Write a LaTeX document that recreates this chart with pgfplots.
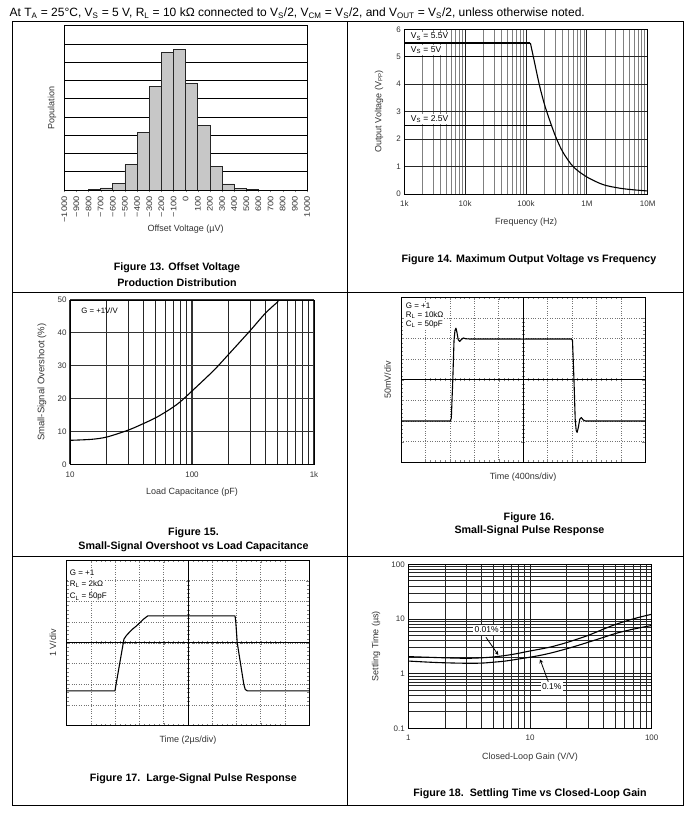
\documentclass[border=0pt]{standalone}
\usepackage{fontspec}
\setmainfont{Liberation Sans}
\usepackage{pgfplots}
\pgfplotsset{compat=1.18}

\newcommand\tickfont{\fontsize{8}{9}\selectfont}
\newcommand\labfont{\fontsize{9}{10}\selectfont}
\newcommand\capfont{\fontsize{10.7}{12}\selectfont\bfseries}
\newcommand\notefont{\fontsize{8}{9}\selectfont}

\pgfplotsset{
  dsheet/.style={
    scale only axis, anchor=north west,
    /pgf/number format/assume math mode=true,
    tick label style={font=\tickfont, text=black!80},
    label style={font=\labfont, text=black!80},
    axis line style={line width=0.8pt},
  },
  scope/.style={
    dsheet, xmin=-5, xmax=5, ymin=-4, ymax=4,
    xtick={-4,...,4}, ytick={-3,...,3},
    xticklabels={}, yticklabels={},
    minor x tick num=4, minor y tick num=4,
    major tick length=3pt, minor tick length=2pt,
  },
}

\begin{document}
\begin{tikzpicture}[x=1pt,y=1pt]
\useasboundingbox (0,0) rectangle (692,-813);
\fill[white] (0,0) rectangle (692,-813);

% header and table frame
\node[anchor=base west, inner sep=0, font=\fontsize{12}{14}\selectfont] at (9.5,-16.5)
  {At T\textsubscript{A} = 25°C, V\textsubscript{S} = 5 V, R\textsubscript{L} = 10 kΩ connected to V\textsubscript{S}/2, V\textsubscript{CM} = V\textsubscript{S}/2, and V\textsubscript{OUT} = V\textsubscript{S}/2, unless otherwise noted.};
\draw[line width=1pt] (12.3,-21.3) rectangle (683.3,-805);
\draw[line width=1pt] (347,-21.3) -- (347,-805);
\draw[line width=1pt] (12.3,-292.7) -- (683.3,-292.7);
\draw[line width=1pt] (12.3,-556) -- (683.3,-556);

% ---- Figure 13: histogram
\begin{axis}[dsheet, at={(64.3pt,-25.7pt)}, width=242.7pt, height=164.3pt,
  xmin=-1000, xmax=1000, ymin=0, ymax=9,
  xtick={-1000,-900,...,1000},
  xticklabels={−1000,−900,−800,−700,−600,−500,−400,−300,−200,−100,0,100,200,300,400,500,600,700,800,900,1000},
  xticklabel style={rotate=90, anchor=east, xscale=1.15},
  xtick align=outside, xtick pos=bottom, major tick length=2.5pt,
  ytick={1,...,8}, yticklabels={}, ymajorgrids,
  y tick style={draw=none},
  grid style={black, line width=0.7pt},
  xlabel={Offset Voltage (µV)}, ylabel={Population},
  xlabel style={at={([yshift=-39pt]axis description cs:0.5,0)}, anchor=center},
  ylabel style={at={([xshift=-12.3pt]axis description cs:0,0.5)}, anchor=center},
]
\addplot[ybar, bar width=100, fill=black!22, draw=black!85, line width=0.8pt] coordinates {
(-750,0.04) (-650,0.11) (-550,0.38) (-450,1.39) (-350,3.14) (-250,5.68) (-150,7.54)
(-50,7.72) (50,5.84) (150,3.54) (250,1.30) (350,0.33) (450,0.07) (550,0.04)
};
\end{axis}
\node[font=\capfont] at (177,-268) {Figure 13. Offset Voltage};
\node[font=\capfont] at (177,-283) {Production Distribution};

% ---- Figure 14: max output voltage vs frequency
\begin{axis}[dsheet, at={(404.3pt,-29.3pt)}, width=243.4pt, height=164.7pt,
  xmode=log, xmin=1e3, xmax=1e7, ymin=0, ymax=6,
  xtick={1e3,1e4,1e5,1e6,1e7}, xticklabels={1k,10k,100k,1M,10M},
  ytick={0,...,6},
  grid=both, major tick length=0pt, minor tick length=0pt,
  major grid style={black!85, line width=0.8pt},
  minor grid style={black!50, line width=1pt},
  xticklabel style={yshift=-3pt},
  xlabel={Frequency (Hz)}, ylabel={Output Voltage (V\textsubscript{PP})},
  xlabel style={at={([yshift=-28pt]axis description cs:0.5,0)}, anchor=center},
  ylabel style={at={([xshift=-25.3pt]axis description cs:0,0.5)}, anchor=center},
]
\addplot[black, line width=1.1pt] coordinates {(1e3,5.5) (118e3,5.5)};
\addplot[black, line width=1.1pt] coordinates {(1e3,5.0) (132e3,5.0)};
\addplot[black, line width=1.1pt] coordinates {(1e3,2.5) (262e3,2.5)};
\addplot[black, line width=1.1pt, smooth] coordinates {
(118e3,5.5) (132e3,5.0) (166e3,3.97) (205e3,3.2) (262e3,2.5) (319e3,2.0) (410e3,1.5)
(600e3,0.99) (1e6,0.62) (1.86e6,0.34) (3.5e6,0.21) (6e6,0.15) (1e7,0.11)
};
\node[anchor=west, fill=white, inner sep=1.2pt, font=\fontsize{8.5}{9}\selectfont] at (axis cs:1220,5.73) {V\textsubscript{S} = 5.5V};
\node[anchor=west, fill=white, inner sep=1.2pt, font=\fontsize{8.5}{9}\selectfont] at (axis cs:1220,5.25) {V\textsubscript{S} = 5V};
\node[anchor=west, fill=white, inner sep=1.2pt, font=\fontsize{8.5}{9}\selectfont] at (axis cs:1220,2.72) {V\textsubscript{S} = 2.5V};
\end{axis}
\node[font=\capfont] at (529,-260) {Figure 14. Maximum Output Voltage vs Frequency};

% ---- Figure 15: overshoot vs load capacitance
\begin{axis}[dsheet, at={(70pt,-300pt)}, width=244pt, height=164.3pt,
  xmode=log, xmin=10, xmax=1000, ymin=0, ymax=50,
  xtick={10,100,1000}, xticklabels={10,100,1k},
  ytick={0,10,...,50},
  grid=both, major tick length=0pt, minor tick length=0pt,
  major grid style={black!80, line width=1.1pt},
  minor grid style={black!85, line width=0.6pt},
  xticklabel style={yshift=-4pt},
  xlabel={Load Capacitance (pF)}, ylabel={Small-Signal Overshoot (\%)},
  xlabel style={at={([yshift=-27.7pt]axis description cs:0.5,0)}, anchor=center},
  ylabel style={at={([xshift=-28pt]axis description cs:0,0.5)}, anchor=center, font=\fontsize{9.5}{10}\selectfont},
]
\addplot[black, line width=1.1pt, smooth] coordinates {
(10,7.3) (15,7.6) (20,8.3) (30,10.4) (40,12.4) (50,14.1) (60,15.8) (70,17.4) (80,19.0)
(100,22.3) (150,28.5) (200,33.5) (300,40.7) (400,46.0) (510,49.6)
};
\node[anchor=west, font=\fontsize{7.8}{9}\selectfont] at (axis cs:11.6,46.6) {G = +1V/V};
\end{axis}
\node[font=\capfont] at (193.5,-533) {Figure 15.};
\node[font=\capfont] at (193.5,-547) {Small-Signal Overshoot vs Load Capacitance};

% ---- Figure 16: small-signal pulse response
\begin{axis}[scope, at={(401pt,-297.3pt)}, width=244.3pt, height=165pt,
  grid=major, major grid style={dotted, black!55, line width=0.7pt},
  xlabel={Time (400ns/div)}, ylabel={50mV/div},
  xlabel style={at={([yshift=-14.4pt]axis description cs:0.5,0)}, anchor=center},
  ylabel style={at={([xshift=-13.3pt]axis description cs:0,0.5)}, anchor=center},
]
\addplot[black, line width=1.1pt, line join=round] coordinates {
(-5,-2) (-2.98,-2) (-2.94,-1.85) (-2.88,0) (-2.83,1.9) (-2.79,2.4) (-2.75,2.5) (-2.71,2.3)
(-2.66,1.95) (-2.6,1.86) (-2.53,1.95) (-2.45,2.03) (-2.35,1.99) (-2.2,1.98)
(1.98,1.98) (2.02,1.9) (2.08,0) (2.13,-1.9) (2.17,-2.45) (2.21,-2.55) (2.26,-2.3)
(2.32,-1.9) (2.38,-1.83) (2.46,-1.95) (2.55,-2.0) (5,-2.0)
};
\node[anchor=west, fill=white, inner sep=1pt, font=\notefont] at (axis cs:-4.85,3.6) {G = +1};
\node[anchor=west, fill=white, inner sep=1pt, font=\notefont] at (axis cs:-4.85,3.15) {R\textsubscript{L} = 10kΩ};
\node[anchor=west, fill=white, inner sep=1pt, font=\notefont] at (axis cs:-4.85,2.69) {C\textsubscript{L} = 50pF};
\end{axis}
\begin{axis}[scope, at={(401pt,-297.3pt)}, width=244.3pt, height=165pt,
  axis lines=middle, axis line style={-, line width=0.8pt},
  tick align=center, major tick length=4pt, minor tick length=3pt,
]
\end{axis}
\node[font=\capfont] at (529,-517.5) {Figure 16.};
\node[font=\capfont] at (529.5,-530.5) {Small-Signal Pulse Response};

% ---- Figure 17: large-signal pulse response
\begin{axis}[scope, at={(66.7pt,-560pt)}, width=242.6pt, height=165.7pt,
  grid=major, major grid style={dotted, black!55, line width=0.7pt},
  xlabel={Time (2µs/div)}, ylabel={1 V/div},
  xlabel style={at={([yshift=-14.3pt]axis description cs:0.5,0)}, anchor=center},
  ylabel style={at={([xshift=-13.7pt]axis description cs:0,0.5)}, anchor=center},
]
\addplot[black, line width=1.1pt, line join=round] coordinates {
(-5,-2.32) (-3.01,-2.32) (-2.98,-2.1) (-2.64,0.18) (-2.53,0.37) (-2.3,0.65) (-2.12,0.82)
(-1.84,1.14) (-1.66,1.3) (1.94,1.3) (1.97,1.0) (2.03,0) (2.3,-2.0) (2.36,-2.25)
(2.45,-2.32) (5,-2.32)
};
\node[anchor=west, fill=white, inner sep=1pt, font=\notefont] at (axis cs:-4.92,3.39) {G = +1};
\node[anchor=west, fill=white, inner sep=1pt, font=\notefont] at (axis cs:-4.92,2.84) {R\textsubscript{L} = 2kΩ};
\node[anchor=west, fill=white, inner sep=1pt, font=\notefont] at (axis cs:-4.92,2.23) {C\textsubscript{L} = 50pF};
\end{axis}
\begin{axis}[scope, at={(66.7pt,-560pt)}, width=242.6pt, height=165.7pt,
  axis lines=middle, axis line style={-, line width=0.8pt},
  tick align=center, major tick length=4pt, minor tick length=3pt,
]
\end{axis}
\node[font=\capfont] at (193.3,-779) {Figure 17.\ \ Large-Signal Pulse Response};

% ---- Figure 18: settling time vs closed-loop gain (log-log through coord trafos)
\begin{axis}[dsheet, at={(408.3pt,-564.3pt)}, width=243.4pt, height=164pt,
  x coord trafo/.code={\pgfmathparse{log10(#1)}},
  x coord inv trafo/.code={\pgfmathparse{10^(#1)}},
  y coord trafo/.code={\pgfmathparse{log10(#1)}},
  y coord inv trafo/.code={\pgfmathparse{10^(#1)}},
  xmin=1, xmax=100, ymin=0.1, ymax=100,
  xtick={1,10,100}, xticklabels={1,10,100},
  minor xtick={2,3,4,5,6,7,8,9,20,30,40,50,60,70,80,90},
  ytick={0.1,1,10,100}, yticklabels={0.1,1,10,100},
  minor ytick={0.2,0.3,0.4,0.5,0.6,0.7,0.8,0.9,2,3,4,5,6,7,8,9,20,30,40,50,60,70,80,90},
  grid=both, major tick length=0pt, minor tick length=0pt,
  major grid style={black!90, line width=0.9pt},
  minor grid style={black!85, line width=0.7pt},
  xticklabel style={yshift=-3pt},
  xlabel={Closed-Loop Gain (V/V)}, ylabel={Settling Time (µs)},
  xlabel style={at={([yshift=-28.4pt]axis description cs:0.5,0)}, anchor=center},
  ylabel style={at={([xshift=-32.3pt]axis description cs:0,0.5)}, anchor=center},
]
\addplot[black, line width=1.1pt, smooth] coordinates {
(1,2.05) (1.5,1.99) (2,1.95) (3,1.91) (4,1.95) (5,2.02) (6,2.12) (7,2.23) (8,2.35) (10,2.6)
(12,2.8) (15,3.1) (20,3.7) (25,4.35) (30,5.0) (40,6.5) (50,7.9) (60,9.0) (70,10.0)
(85,11.2) (100,12.2)
};
\addplot[black, line width=1.1pt, smooth] coordinates {
(1,1.7) (1.5,1.62) (2,1.58) (3,1.55) (4,1.56) (5,1.62) (6,1.68) (7,1.76) (8,1.85) (10,2.0)
(12,2.15) (15,2.4) (20,2.85) (25,3.3) (30,3.75) (40,4.6) (50,5.4) (60,6.0) (70,6.5)
(85,7.1) (100,7.6)
};
\end{axis}
\draw[line width=0.8pt, -stealth] (486,-637.3) -- (498.3,-655);
\draw[line width=0.8pt, -stealth] (548.3,-681.7) -- (540,-659.3);
\node[fill=white, inner sep=1.5pt, font=\fontsize{8.5}{9}\selectfont] at (486.7,-630) {0.01\%};
\node[fill=white, inner sep=1.5pt, font=\fontsize{8.5}{9}\selectfont] at (551.7,-686.7) {0.1\%};
\node[font=\capfont] at (530,-794) {Figure 18.\ \ Settling Time vs Closed-Loop Gain};
\end{tikzpicture}
\end{document}
